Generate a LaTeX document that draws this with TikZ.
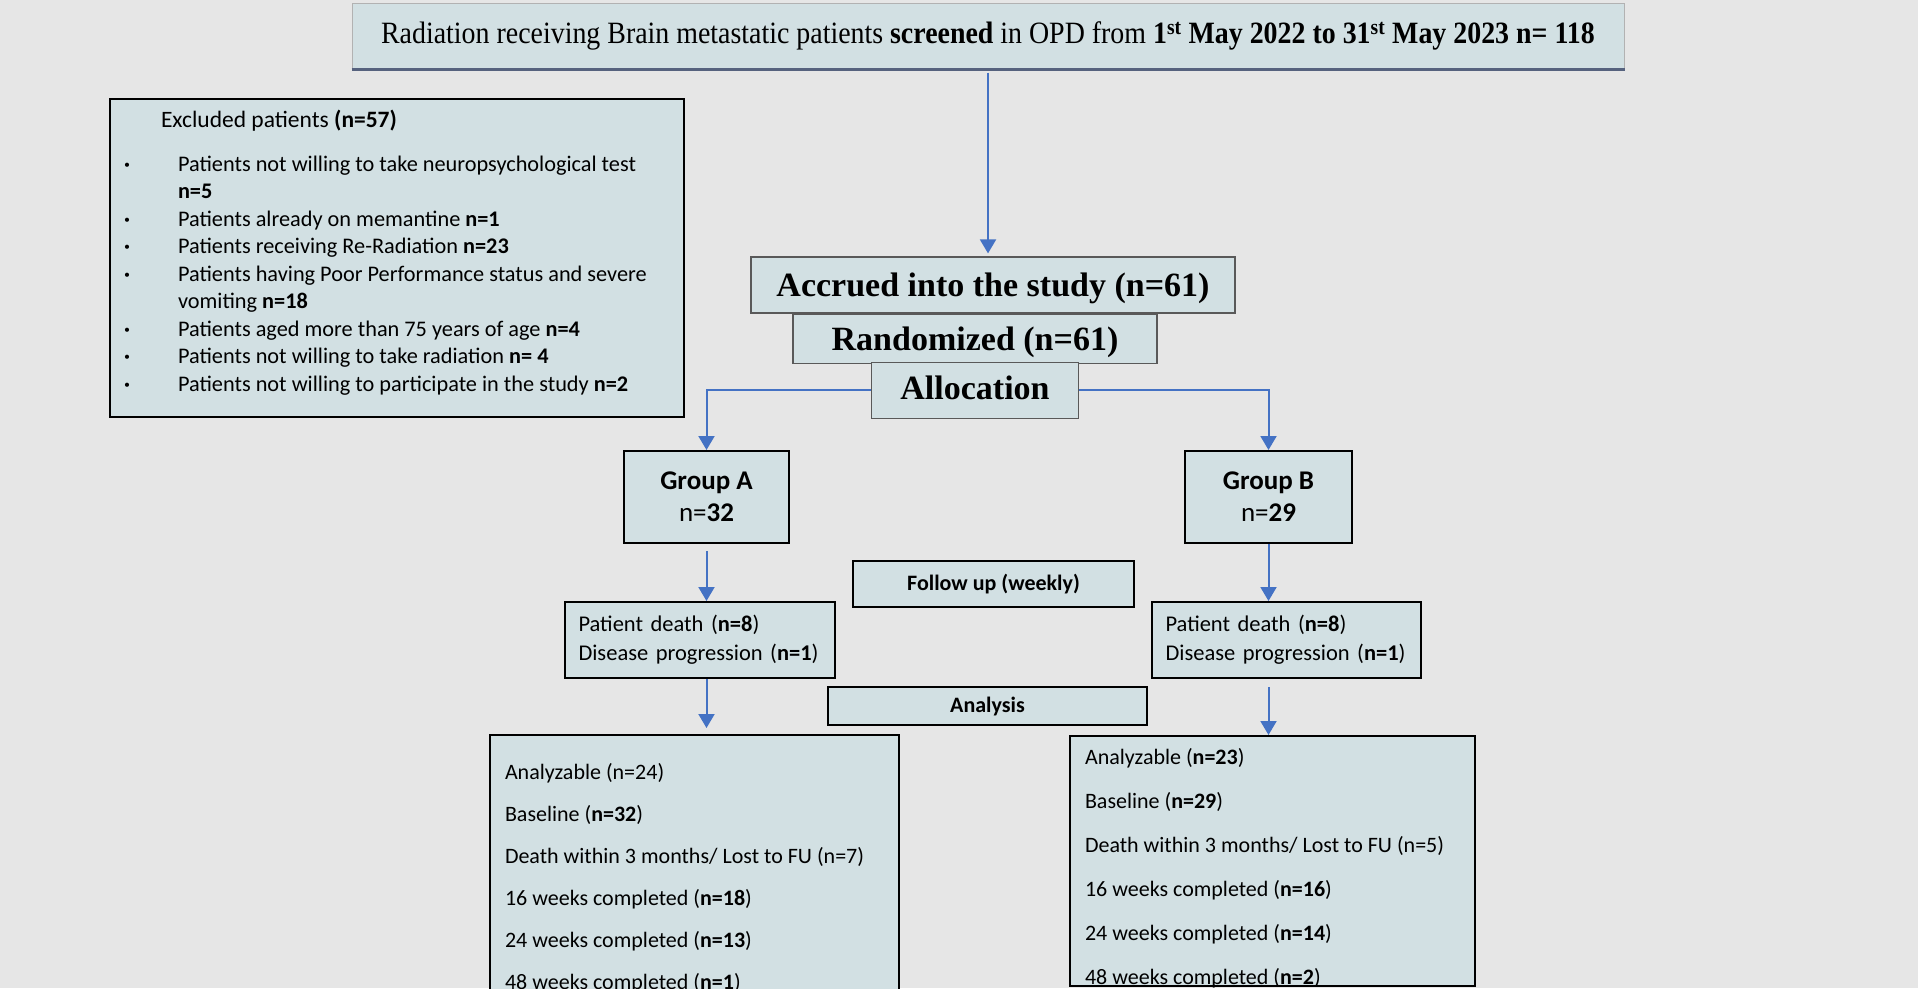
\documentclass[tikz,border=0pt]{standalone}
\usepackage{fontspec}
\setmainfont{Carlito}
\newfontfamily\timesfont{Liberation Serif}
\usepackage{graphicx}
\usetikzlibrary{arrows.meta,positioning}

\definecolor{pagegray}{HTML}{E6E6E6}
\definecolor{boxblue}{HTML}{D2E0E3}
\definecolor{flowblue}{HTML}{4472C4}
\definecolor{slateline}{HTML}{56627E}

% bullet line and wrapped continuation in the exclusion list
\newcommand{\exitem}[1]{\makebox[68pt][l]{\hspace{14pt}\textbf{·}}#1}
\newcommand{\exmore}[1]{\hspace*{68pt}#1}

\begin{document}
\begin{tikzpicture}[x=1pt,y=-1pt]
    \tikzstyle{every node}=[draw=black, line width=2pt, fill=boxblue, inner sep=0pt]
    \tikzstyle{serifbox}=[draw=black!65, line width=1.2pt, text height=30pt, text depth=7pt,
                          font=\timesfont\bfseries\fontsize{34}{40}\selectfont]
    \tikzstyle{smallhead}=[font=\bfseries\fontsize{22}{26}\selectfont]
    \tikzstyle{flow}=[draw=flowblue, line width=2pt, -{Triangle[width=16pt,length=14pt]}]

    \useasboundingbox (0,0) rectangle (1918,988);
    \clip (0,0) rectangle (1918,988);
    \fill[pagegray] (0,0) rectangle (1918,988);

    % screening and enrolment
    \node[draw=gray!60, line width=1pt, minimum width=1272pt, minimum height=66pt,
          font=\timesfont\fontsize{31}{36}\selectfont] (scr) at (988,36)
        {\scalebox{0.9}[1]{Radiation receiving Brain metastatic patients \textbf{screened} in OPD from \textbf{1\textsuperscript{st} May 2022 to 31\textsuperscript{st} May 2023 n= 118}}};
    \draw[slateline, line width=2.5pt] (scr.south west) -- (scr.south east);

    \node[serifbox, minimum width=484pt, minimum height=56pt] (acc) at (993,285) {Accrued into the study (n=61)};
    \node[serifbox, minimum width=364pt, minimum height=49pt] (rand) [below=0pt of acc, xshift=-18pt] {Randomized (n=61)};
    \node[serifbox, minimum width=207pt, minimum height=56pt, text height=26pt, text depth=8pt] (alloc) [below=-2pt of rand] {Allocation};

    % exclusions
    \node[anchor=north west] (excl) at (109,98) {\parbox[c][318pt][t]{574pt}{%
        \fontsize{22.3}{27.5}\selectfont
        \vspace*{11pt}
        \hspace*{51pt}{\fontsize{23.5}{27.5}\selectfont Excluded patients \textbf{(n=57)}}\\[16.5pt]
        \exitem{Patients not willing to take neuropsychological test}\\
        \exmore{\textbf{n=5}}\\
        \exitem{Patients already on memantine \textbf{n=1}}\\
        \exitem{Patients receiving Re-Radiation \textbf{n=23}}\\
        \exitem{Patients having Poor Performance status and severe}\\
        \exmore{vomiting \textbf{n=18}}\\
        \exitem{Patients aged more than 75 years of age \textbf{n=4}}\\
        \exitem{Patients not willing to take radiation \textbf{n= 4}}\\
        \exitem{Patients not willing to participate in the study \textbf{n=2}}}};

    % arms
    \node[minimum width=165pt, minimum height=92pt, align=center, font=\fontsize{27}{32}\selectfont] (grpA) at (706.5,497) {\textbf{Group A}\\n=\textbf{32}};
    \node[minimum width=167pt, minimum height=92pt, align=center, font=\fontsize{27}{32}\selectfont] (grpB) at (1268.5,497) {\textbf{Group B}\\n=\textbf{29}};

    \node[smallhead, minimum width=281pt, minimum height=46pt] (fol) at (993.5,584) {Follow up (weekly)};

    \node[minimum width=270pt, minimum height=76pt, text width=243pt, align=left, font=\fontsize{22.5}{29}\selectfont] (deathA) at (700,640)
        {Patient death (\textbf{n=8})\\Disease progression (\textbf{n=1})};
    \node[minimum width=269pt, minimum height=76pt, text width=242pt, align=left, font=\fontsize{22.5}{29}\selectfont] (deathB) at (1286.5,640)
        {Patient death (\textbf{n=8})\\Disease progression (\textbf{n=1})};

    \node[smallhead, minimum width=319pt, minimum height=38pt] (ana) at (987.5,706) {Analysis};

    % analysis per arm
    \node[anchor=north west] (outA) at (489,734) {\parbox[c][300pt][t]{409pt}{%
        \fontsize{22}{42}\selectfont\setlength{\leftskip}{15pt}
        \vspace*{28.5pt}
        Analyzable (n=24)\\
        Baseline (\textbf{n=32})\\
        Death within 3 months/ Lost to FU (n=7)\\
        16 weeks completed (\textbf{n=18})\\
        24 weeks completed (\textbf{n=13})\\
        48 weeks completed (\textbf{n=1})}};
    \node[anchor=north west] (outB) at (1069,735) {\parbox[c][250pt][t]{405pt}{%
        \fontsize{22}{44}\selectfont\setlength{\leftskip}{15pt}
        \vspace*{12.5pt}
        Analyzable (\textbf{n=23})\\
        Baseline (\textbf{n=29})\\
        Death within 3 months/ Lost to FU (n=5)\\
        16 weeks completed (\textbf{n=16})\\
        24 weeks completed (\textbf{n=14})\\
        48 weeks completed (\textbf{n=2})}};

    \draw [flow, shorten <=3pt, shorten >=3pt] (scr.south) to (scr.south |- acc.north);
    \draw [flow] (alloc.west) -| (grpA.north);
    \draw [flow] (alloc.east) -| (grpB.north);
    \draw [flow, shorten <=7pt] (grpA.south) to (grpA.south |- deathA.north);
    \draw [flow] (grpB.south) to (grpB.south |- deathB.north);
    \draw [flow, shorten >=6pt] (deathA.south -| grpA.south) to (outA.north -| grpA.south);
    \draw [flow, shorten <=8pt] (deathB.south -| grpB.south) to (outB.north -| grpB.south);
\end{tikzpicture}
\end{document}
